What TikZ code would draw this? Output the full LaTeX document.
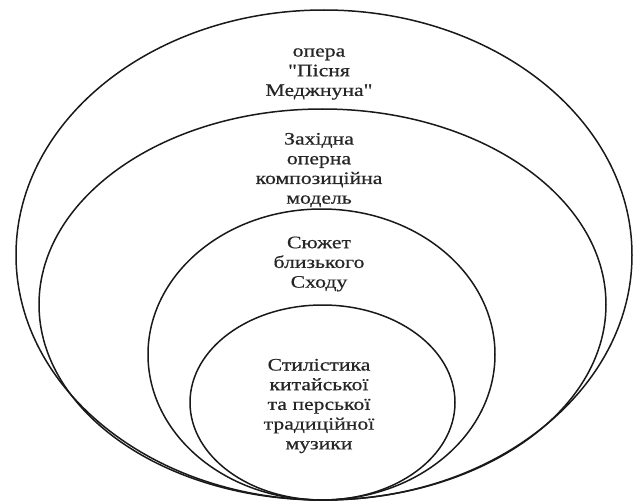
\documentclass[tikz,border=0pt]{standalone}
\usepackage{fontspec}
\newfontfamily\lbfont{Liberation Serif}[FakeStretch=1.24,FakeBold=0.6]
\begin{document}
\begin{tikzpicture}[x=1pt,y=-1pt,
  ring/.style={draw=black!90,line width=1.5pt},
  lbl/.style={align=center,font=\lbfont\fontsize{17.5}{19.7}\selectfont,inner sep=0pt,text=black!85}]
\useasboundingbox (0,0) rectangle (633,503);
\draw[ring] (324,255) ellipse [x radius=308,y radius=245];
\draw[ring] (322.5,304.5) ellipse [x radius=283.5,y radius=195.5];
\draw[ring] (321.5,354.5) ellipse [x radius=173.5,y radius=145.5];
\draw[ring] (322.5,402.5) ellipse [x radius=132.5,y radius=97.5];
\node[lbl] (t1) at (319,74) {опера\\"Пісня\\Меджнуна"};
\node[lbl] (t2) at (319,170) {Західна\\оперна\\композиційна\\модель};
\node[lbl] (t3) at (319,264) {Сюжет\\близького\\Сходу};
\node[lbl] (t4) at (319,406) {Стилістика\\китайської\\та перської\\традиційної\\музики};
\end{tikzpicture}
\end{document}
